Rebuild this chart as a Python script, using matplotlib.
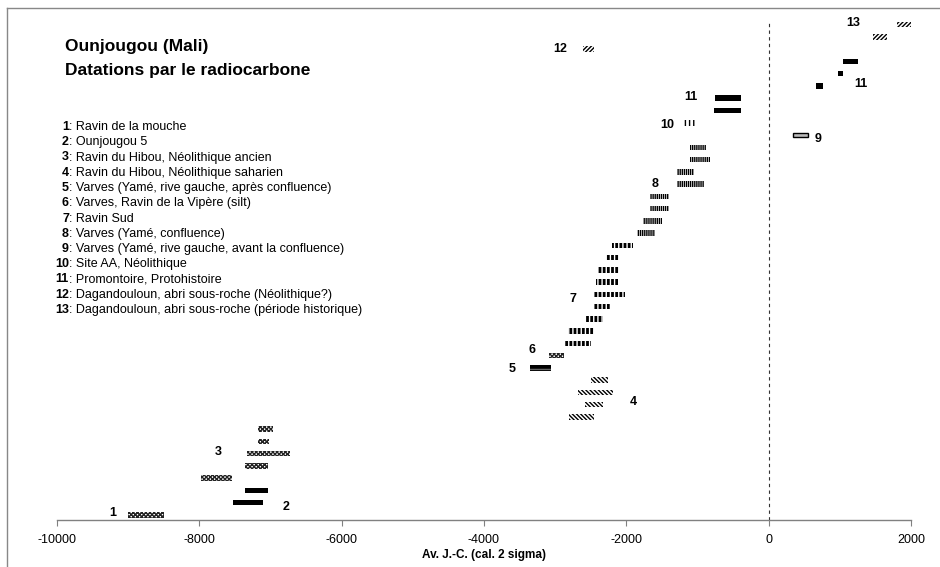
import matplotlib
matplotlib.use('Agg')
import matplotlib.pyplot as plt
from matplotlib.lines import Line2D

plt.rcParams['font.family'] = ['Liberation Sans', 'DejaVu Sans']
plt.rcParams['hatch.linewidth'] = 1.0
plt.rcParams['axes.unicode_minus'] = False

# one dating per row, from the bottom of the chart upwards
site = [1, 2, 2, 3, 3, 3, 3, 3, 4, 4, 4, 4, 5, 6,
        7, 7, 7, 7, 7, 7, 7, 7, 7,
        8, 8, 8, 8, 8, 8, 8, 8,
        9, 10, 11, 11, 11, 11, 11, 12, 13, 13]
start = [-9000, -7520, -7360, -7980, -7360, -7330, -7180, -7180,
         -2800, -2580, -2680, -2490, -3360, -3090,
         -2880, -2820, -2570, -2460, -2460, -2430, -2400, -2280, -2200,
         -1850, -1760, -1670, -1670, -1290, -1290, -1110, -1110,
         340, -1220, -770, -760, 660, 980, 1040, -2610, 1470, 1810]
end = [-8500, -7110, -7040, -7540, -7040, -6730, -7020, -6970,
       -2460, -2330, -2190, -2260, -3060, -2880,
       -2500, -2460, -2330, -2220, -2020, -2120, -2110, -2110, -1900,
       -1600, -1500, -1400, -1400, -910, -1050, -830, -880,
       550, -1000, -390, -390, 770, 1050, 1260, -2460, 1660, 2010]

site_names = ["Ravin de la mouche",
              "Ounjougou 5",
              "Ravin du Hibou, Néolithique ancien",
              "Ravin du Hibou, Néolithique saharien",
              "Varves (Yamé, rive gauche, après confluence)",
              "Varves, Ravin de la Vipère (silt)",
              "Ravin Sud",
              "Varves (Yamé, confluence)",
              "Varves (Yamé, rive gauche, avant la confluence)",
              "Site AA, Néolithique",
              "Promontoire, Protohistoire",
              "Dagandouloun, abri sous-roche (Néolithique?)",
              "Dagandouloun, abri sous-roche (période historique)"]

# group numbers written next to the bars
lab_num = [1, 2, 3, 4, 5, 6, 7, 8, 9, 10, 11, 11, 12, 13]
lab_x = [-9213, -6784, -7740, -1896, -3610, -3330, -2750, -1590, 700, -1430, -1095, 1290, -2935, 1190]
lab_y = [1.2, 1.65, 6.1, 10.2, 12.9, 14.5, 18.6, 28, 31.7, 32.8, 35.1, 36.2, 39, 41.1]

# fill styles: facecolor, hatch, hatch colour, edge width
styles = {
    1: ('white', 'xxxxxxxx', '#222222', 0),
    2: ('black', None, 'black', 0),
    3: ('white', 'xxxxxxxx', '#222222', 0),
    4: ('white', '\\' * 8, 'black', 0),
    5: ('black', '---', '#666666', 0),
    6: ('white', 'xxxxxxxx', '#222222', 0),
    7: ('black', '||||', 'white', 0),
    8: ('white', '||||||||', 'black', 0),
    9: ('#bbbbbb', None, 'black', 1.0),
    10: ('white', '||||', 'black', 0),
    11: ('black', None, 'black', 0),
    12: ('white', '/' * 8, 'black', 0),
    13: ('white', '/' * 8, 'black', 0),
}

fig = plt.figure(figsize=(9.4, 5.67), dpi=100)
ax = fig.add_axes([57/940, 47/567, 854/940, 510/567])

for i in range(len(site)):
    fc, h, hc, lw = styles[site[i]]
    hgt = 0.25 if site[i] == 9 else 0.45
    ax.barh(i + 1, end[i] - start[i], left=start[i], height=hgt,
            color=fc, edgecolor=hc, hatch=h, linewidth=lw)

for n, x, y in zip(lab_num, lab_x, lab_y):
    ax.text(x, y, str(n), ha='center', va='center', fontsize=9, fontweight='bold')

ax.set_xlim(-10000, 2000)
ax.set_ylim(0.59, 42.2)
ax.axvline(0, ymin=0, ymax=0.98, color='#333333', lw=0.8, ls=(0, (3, 3)))

for s in ['top', 'right', 'left']:
    ax.spines[s].set_visible(False)
ax.spines['bottom'].set_color('#808080')
ax.spines['bottom'].set_linewidth(1.0)
ax.set_yticks([])
ax.set_xticks(range(-10000, 2001, 2000))
ax.tick_params(axis='x', direction='out', length=4, color='#808080', pad=6, labelsize=9)
ax.set_xlabel('Av. J.-C. (cal. 2 sigma)', fontsize=8.5, fontweight='bold', labelpad=2)

# titles and key
fig.text(65/940, 1 - 47/567, 'Ounjougou (Mali)', fontsize=12.5, fontweight='bold', va='center')
fig.text(65/940, 1 - 71/567, 'Datations par le radiocarbone', fontsize=12.5, fontweight='bold', va='center')
for k, name in enumerate(site_names):
    yy = 1 - (127 + k * 15.25) / 567
    fig.text(69/940, yy, str(k + 1), ha='right', va='center', fontsize=9, fontweight='bold')
    fig.text(69/940, yy, ': ' + name, ha='left', va='center', fontsize=9)

# outer border of the chart area
fy = 1 - 8/567
fig.add_artist(Line2D([7/940, 7/940], [0, fy], transform=fig.transFigure, color='#888888', lw=1))
fig.add_artist(Line2D([7/940, 1], [fy, fy], transform=fig.transFigure, color='#888888', lw=1))

fig.savefig('out.png', dpi=100)
